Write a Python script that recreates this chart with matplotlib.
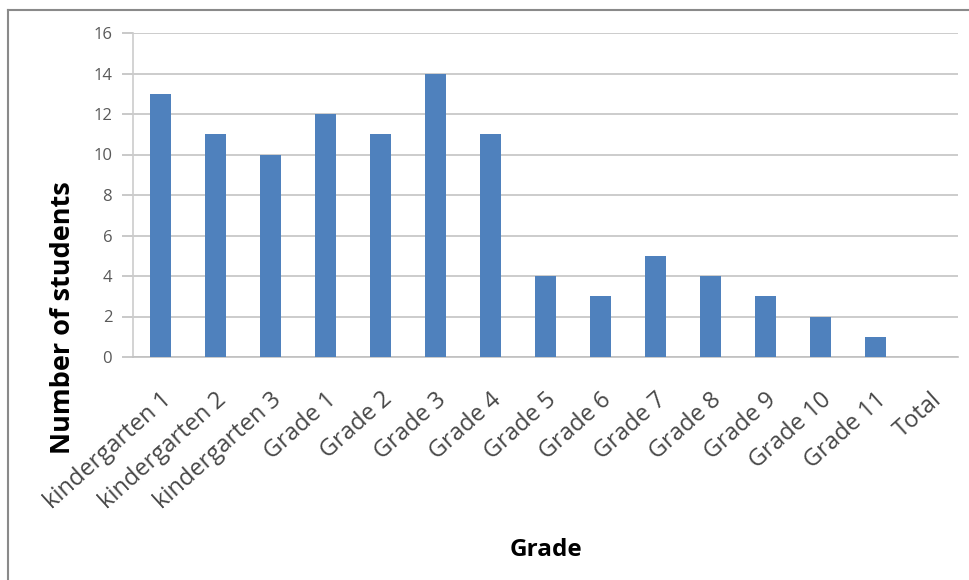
import matplotlib
matplotlib.use("Agg")
import matplotlib.pyplot as plt
from matplotlib.lines import Line2D
import numpy as np

grades = ["kindergarten 1", "kindergarten 2", "kindergarten 3", "Grade 1", "Grade 2",
          "Grade 3", "Grade 4", "Grade 5", "Grade 6", "Grade 7", "Grade 8", "Grade 9",
          "Grade 10", "Grade 11", "Total"]
students = [13, 11, 10, 12, 11, 14, 11, 4, 3, 5, 4, 3, 2, 1, 0]
y_ticks = [0, 2, 4, 6, 8, 10, 12, 14, 16]

plt.rcParams['font.family'] = ['Open Sans', 'DejaVu Sans']

W, H = 970, 580
fig = plt.figure(figsize=(W / 100, H / 100), dpi=100)
ax = fig.add_axes([133 / W, 1 - 357 / H, (958 - 133) / W, (357 - 33) / H])

x = np.arange(len(grades))
ax.bar(x, students, width=0.38, color="#4F81BD", zorder=3)

ax.set_xlim(-0.5, len(grades) - 0.5)
ax.set_ylim(0, 16)
ax.set_yticks(y_ticks)
ax.yaxis.grid(True, color="#c4c4c4", linewidth=1.2, zorder=0)

for side in ["top", "right"]:
    ax.spines[side].set_visible(False)
ax.spines["left"].set_color("#cccccc")
ax.spines["bottom"].set_color("#c0c0c0")
ax.spines["left"].set_linewidth(1.2)
ax.spines["bottom"].set_linewidth(1.2)

ax.tick_params(axis="y", length=8, width=1.2, color="#c0c0c0",
               labelsize=12, labelcolor="#595959", pad=7)
ax.tick_params(axis="x", length=0, pad=22)
ax.set_xticks(x)
ax.set_xticklabels(grades, rotation=42, ha="right", va="top", rotation_mode="anchor",
                   fontsize=17, color="#474747")

ax.set_ylabel("Number of students", fontsize=19.5, fontweight="bold")
ax.yaxis.set_label_coords(-0.069, 0.12)
ax.set_xlabel("Grade", fontsize=17.5, fontweight="bold")
ax.xaxis.set_label_coords(0.5, -0.56)

# chart frame (top and left edges)
frame_color = "#8a8a8a"
fig.add_artist(Line2D([8.5 / W, 8.5 / W], [0, 1 - 9.5 / H], transform=fig.transFigure,
                      color=frame_color, linewidth=1.5))
fig.add_artist(Line2D([8.5 / W, 1], [1 - 9.5 / H, 1 - 9.5 / H], transform=fig.transFigure,
                      color=frame_color, linewidth=1.5))

fig.savefig("out.png", dpi=100, facecolor="white")
